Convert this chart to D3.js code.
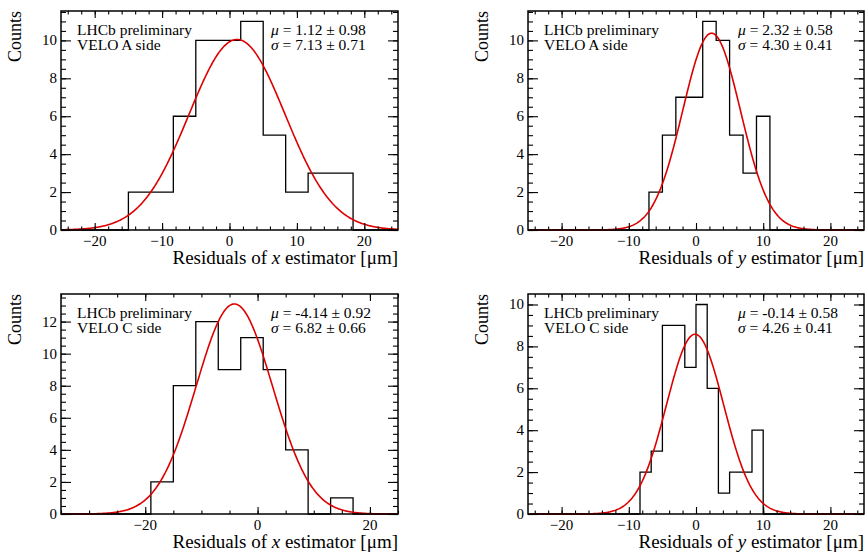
<!DOCTYPE html>
<html>
<head>
<meta charset="utf-8">
<script src="https://cdn.jsdelivr.net/npm/d3@7"></script>
<style>
  body { margin: 0; background: #fff; }
  svg { display: block; }
  text { font-family: "Liberation Serif", "DejaVu Serif", serif; fill: #000; }
</style>
</head>
<body>
<div id="chart"></div>
<script>
// histogram counts per bin (all bins, zeros included)
var countsXA = [0, 0, 0, 2, 2, 6, 10, 10, 11, 5, 2, 3, 3, 0, 0];
var countsYA = [0, 0, 0, 0, 0, 0, 0, 0, 0, 2, 5, 7, 7, 11, 10, 5, 3, 6, 0, 0, 0, 0, 0, 0, 0];
var countsXC = [0, 0, 0, 0, 2, 8, 12, 9, 11, 9, 4, 0, 1, 0, 0];
var countsYC = [0, 0, 0, 0, 0, 0, 0, 0, 0, 0, 2, 3, 9, 9, 7, 10, 6, 1, 2, 2, 4, 0, 0, 0, 0, 0, 0, 0, 0, 0];

// histogram ranges [min, max]
var rangeXA = [-25, 25];
var rangeYA = [-25, 25];
var rangeXC = [-35, 25];
var rangeYC = [-25, 25];

// gaussian fit: [mu, sigma, peak height]
var fitXA = [1.12, 7.13, 10.05];
var fitYA = [2.32, 4.30, 10.38];
var fitXC = [-4.14, 6.82, 13.1];
var fitYC = [-0.14, 4.26, 8.58];

var fitTextMu = ["1.12 \u00b1 0.98", "2.32 \u00b1 0.58", "-4.14 \u00b1 0.92", "-0.14 \u00b1 0.58"];
var fitTextSigma = ["7.13 \u00b1 0.71", "4.30 \u00b1 0.41", "6.82 \u00b1 0.66", "4.26 \u00b1 0.41"];
var sideLabels = ["VELO A side", "VELO A side", "VELO C side", "VELO C side"];
var axisVar = ["x", "y", "x", "y"];
var yMax = [11.55, 11.55, 13.72, 10.5];

var svgWidth = 867;
var svgHeight = 555;

var frames = [
  {left: 61, right: 398, top: 11, bottom: 230},
  {left: 528, right: 864, top: 11, bottom: 230},
  {left: 61, right: 398, top: 294, bottom: 514},
  {left: 528, right: 864, top: 294, bottom: 514}
];

var panels = [
  {counts: countsXA, range: rangeXA, fit: fitXA, xMajor: 10, xMinor: 2},
  {counts: countsYA, range: rangeYA, fit: fitYA, xMajor: 10, xMinor: 2},
  {counts: countsXC, range: rangeXC, fit: fitXC, xMajor: 20, xMinor: 5},
  {counts: countsYC, range: rangeYC, fit: fitYC, xMajor: 10, xMinor: 2}
];

var svg = d3.select("#chart")
            .append("svg")
            .attr("width", svgWidth)
            .attr("height", svgHeight);

panels.forEach(function(p, i) {
    var f = frames[i];
    var g = svg.append("g");

    var xScale = d3.scaleLinear().domain(p.range).range([f.left, f.right]);
    var yScale = d3.scaleLinear().domain([0, yMax[i]]).range([f.bottom, f.top]);

    // histogram as a step outline
    var nb = p.counts.length;
    var bw = (p.range[1] - p.range[0]) / nb;
    var pts = [];
    p.counts.forEach(function(c, k) {
        pts.push([p.range[0] + k * bw, c]);
        pts.push([p.range[0] + (k + 1) * bw, c]);
    });
    var line = d3.line().x(function(d) { return xScale(d[0]); })
                        .y(function(d) { return yScale(d[1]); });
    g.append("path")
     .attr("d", line(pts))
     .attr("fill", "none")
     .attr("stroke", "#000")
     .attr("stroke-width", 1.3);

    // fit curve
    var mu = p.fit[0], sig = p.fit[1], amp = p.fit[2];
    var curve = d3.range(p.range[0], p.range[1] + 0.001, (p.range[1] - p.range[0]) / 400).map(function(x) {
        return [x, amp * Math.exp(-0.5 * Math.pow((x - mu) / sig, 2))];
    });
    g.append("path")
     .attr("d", line(curve))
     .attr("fill", "none")
     .attr("stroke", "#dd0000")
     .attr("stroke-width", 1.6);

    // axes: ticks inside on all four sides
    var xMajorTicks = d3.range(Math.ceil(p.range[0] / p.xMajor) * p.xMajor, p.range[1] + 0.001, p.xMajor);
    var xMinorTicks = d3.range(Math.ceil(p.range[0] / p.xMinor) * p.xMinor, p.range[1] + 0.001, p.xMinor);
    var yMajorTicks = d3.range(0, yMax[i], 2);
    var yMinorTicks = d3.range(0, yMax[i], 0.5);

    var axB = d3.axisBottom(xScale).tickValues(xMinorTicks).tickSize(-3.5).tickFormat("");
    var axB2 = d3.axisBottom(xScale).tickValues(xMajorTicks).tickSize(-7).tickFormat("");
    var axT = d3.axisTop(xScale).tickValues(xMinorTicks).tickSize(-3.5).tickFormat("");
    var axT2 = d3.axisTop(xScale).tickValues(xMajorTicks).tickSize(-7).tickFormat("");
    var axL = d3.axisLeft(yScale).tickValues(yMinorTicks).tickSize(-5).tickFormat("");
    var axL2 = d3.axisLeft(yScale).tickValues(yMajorTicks).tickSize(-10).tickFormat("");
    var axR = d3.axisRight(yScale).tickValues(yMinorTicks).tickSize(-5).tickFormat("");
    var axR2 = d3.axisRight(yScale).tickValues(yMajorTicks).tickSize(-10).tickFormat("");

    [[axB, "translate(0," + f.bottom + ")"], [axB2, "translate(0," + f.bottom + ")"],
     [axT, "translate(0," + f.top + ")"], [axT2, "translate(0," + f.top + ")"],
     [axL, "translate(" + f.left + ",0)"], [axL2, "translate(" + f.left + ",0)"],
     [axR, "translate(" + f.right + ",0)"], [axR2, "translate(" + f.right + ",0)"]].forEach(function(a) {
        var ag = g.append("g").attr("transform", a[1]).call(a[0]);
        ag.select(".domain").remove();
        ag.selectAll(".tick line").attr("stroke", "#000").attr("stroke-width", 1.1);
    });

    // frame
    g.append("rect")
     .attr("x", f.left).attr("y", f.top)
     .attr("width", f.right - f.left).attr("height", f.bottom - f.top)
     .attr("fill", "none").attr("stroke", "#000").attr("stroke-width", 1.5);

    // tick labels
    var fmt = d3.format("d");
    g.selectAll(".xlab").data(xMajorTicks).enter().append("text")
     .attr("x", function(d) { return xScale(d); })
     .attr("y", f.bottom + 16)
     .attr("text-anchor", "middle")
     .attr("font-size", 15)
     .text(function(d) { return fmt(d); });
    g.selectAll(".ylab").data(yMajorTicks).enter().append("text")
     .attr("x", f.left - 4)
     .attr("y", function(d) { return yScale(d) + 5; })
     .attr("text-anchor", "end")
     .attr("font-size", 15)
     .text(function(d) { return fmt(d); });

    // axis titles
    var xt = g.append("text")
              .attr("x", f.right)
              .attr("y", f.bottom + 34)
              .attr("text-anchor", "end")
              .attr("font-size", 19);
    xt.append("tspan").text("Residuals of ");
    xt.append("tspan").attr("font-style", "italic").text(axisVar[i]);
    xt.append("tspan").text(" estimator [\u03bcm]");

    g.append("text")
     .attr("transform", "translate(" + (f.left - 40) + "," + f.top + ") rotate(-90)")
     .attr("text-anchor", "end")
     .attr("font-size", 18)
     .text("Counts");

    // labels inside the frame
    g.append("text").attr("x", f.left + 16).attr("y", f.top + 24)
     .attr("font-size", 15.5).text("LHCb preliminary");
    g.append("text").attr("x", f.left + 16).attr("y", f.top + 39)
     .attr("font-size", 15.5).text(sideLabels[i]);

    var t1 = g.append("text").attr("x", f.left + 210).attr("y", f.top + 24).attr("font-size", 15.5);
    t1.append("tspan").attr("font-style", "italic").text("\u03bc");
    t1.append("tspan").text(" = " + fitTextMu[i]);
    var t2 = g.append("text").attr("x", f.left + 210).attr("y", f.top + 39).attr("font-size", 15.5);
    t2.append("tspan").attr("font-style", "italic").text("\u03c3");
    t2.append("tspan").text(" = " + fitTextSigma[i]);
});
</script>
</body>
</html>
